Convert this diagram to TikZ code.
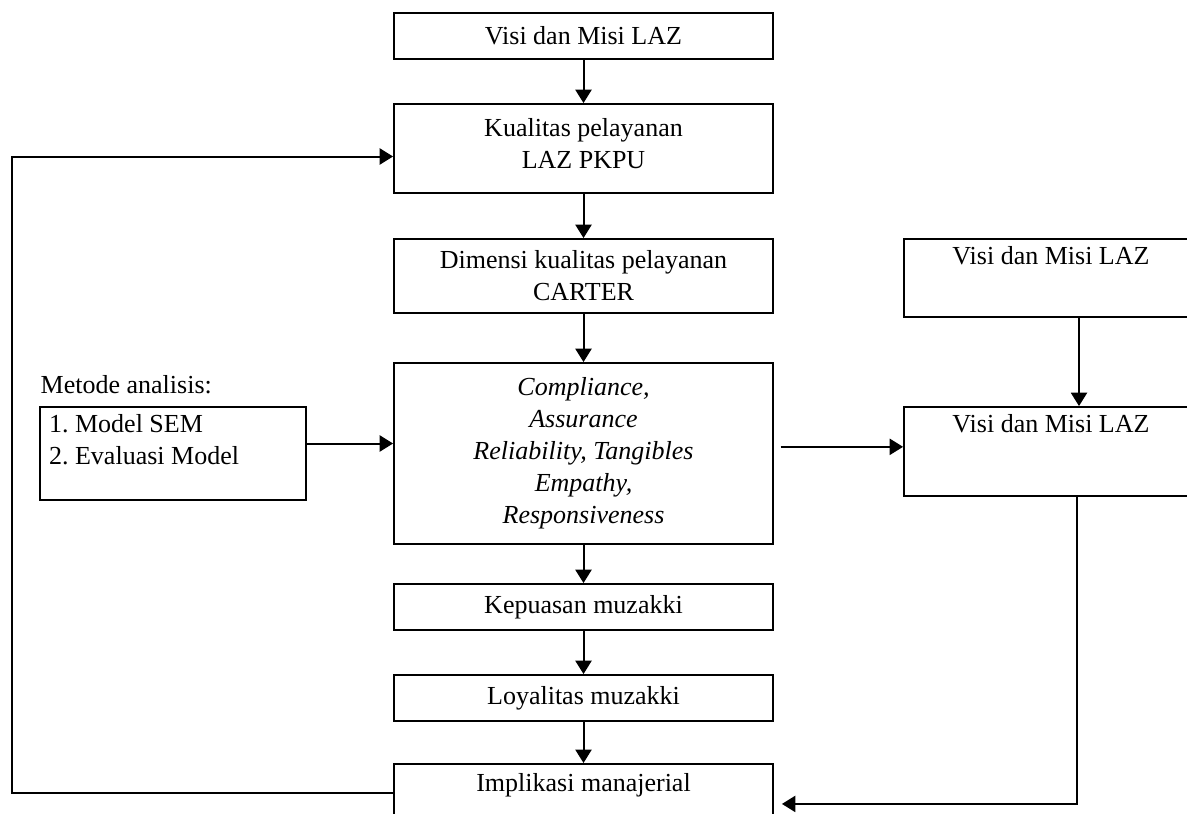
\documentclass[tikz,border=0pt]{standalone}
\usepackage{fontspec}
\setmainfont{Liberation Serif}
\usetikzlibrary{arrows.meta}

\begin{document}
\begin{tikzpicture}[x=0.75pt,y=-0.75pt,
  txt/.style={font=\fontsize{19.5}{24}\selectfont},
  box/.style={draw,line width=1.4pt,minimum width=284.25pt,inner sep=0pt,align=center,txt},
  side/.style={draw,line width=1.4pt,minimum width=220.5pt,minimum height=#1,inner sep=0pt},
  flow/.style={line width=1.5pt,-{Triangle[length=10pt,width=12pt]}}]
\useasboundingbox (0,0) rectangle (1187,813);
\clip (0,0) rectangle (1187,813);
% kolom tengah
\node[box,minimum height=34.5pt] (visi) at (583.5,36) {Visi dan Misi LAZ};
\node[box,minimum height=66.75pt,text depth=8pt] (kual) at (583.5,148.5) {Kualitas pelayanan\\LAZ PKPU};
\node[box,minimum height=55.5pt] (dim) at (583.5,276) {Dimensi kualitas pelayanan\\CARTER};
\node[box,minimum height=135.75pt,font=\fontsize{19.5}{24}\selectfont\itshape] (carter) at (583.5,453.5)
  {Compliance,\\Assurance\\Reliability, Tangibles\\Empathy,\\Responsiveness};
\node[box,minimum height=34.5pt] (puas) at (583.5,607) {Kepuasan muzakki};
\node[box,minimum height=34.5pt] (loyal) at (583.5,698) {Loyalitas muzakki};
\node[box,minimum height=60pt,anchor=north,
  label={[txt,anchor=north,yshift=-4pt]north:Implikasi manajerial}] (impl) at (583.5,763) {};
% kanan
\node[side=58.5pt,label={[txt,anchor=north,yshift=-3pt]north:Visi dan Misi LAZ}] (visiA) at (1051,278) {};
\node[side=66.75pt,label={[txt,anchor=north,yshift=-3pt]north:Visi dan Misi LAZ}] (visiB) at (1051,451.5) {};
% kiri
\node[txt,anchor=west] (judul) at (36,385) {Metode analisis:};
\node[draw,line width=1.4pt,minimum width=199.5pt,minimum height=69.75pt,inner sep=0pt,
  label={[txt,anchor=north west,align=left,xshift=4pt,yshift=-3pt]north west:1.\ Model SEM\\2.\ Evaluasi Model}] (metode) at (173,453.5) {};
\coordinate (balik) at (12,0);

\draw[flow] (visi) -- (kual);
\draw[flow] (kual) -- (dim);
\draw[flow] (dim) -- (carter);
\draw[flow] (carter) -- (puas);
\draw[flow] (puas) -- (loyal);
\draw[flow] (loyal) -- (impl);
\draw[flow] ([yshift=7.5pt]metode.east) -- ([yshift=7.5pt]carter.west);
\draw[flow] ([xshift=5pt,yshift=5pt]carter.east) -- ([yshift=5pt]visiB.west |- carter.east);
\draw[flow] ([xshift=21pt]visiA.south) -- ([xshift=21pt]visiB.north);
\draw[flow] ([xshift=19.5pt]visiB.south) |- ([xshift=6pt]impl.east);
\draw[flow] ([yshift=8.25pt]impl.west) -- ([yshift=8.25pt]impl.west -| balik) |- ([yshift=-6pt]kual.west);
\end{tikzpicture}
\end{document}
